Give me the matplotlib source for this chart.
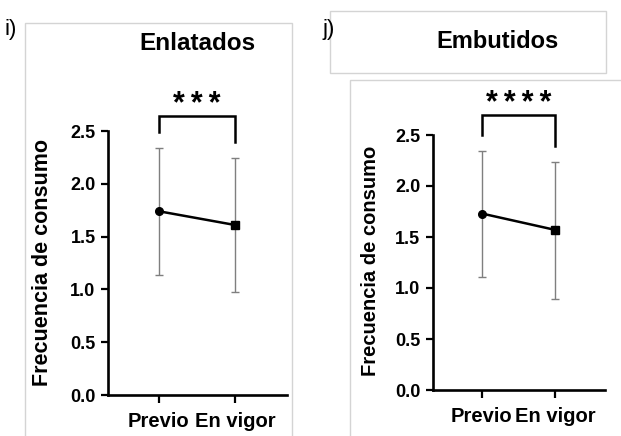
"""Frecuencia de consumo: Enlatados / Embutidos (previo vs en vigor)."""

import matplotlib
matplotlib.use("Agg")
import matplotlib.pyplot as plt
from matplotlib.patches import Rectangle

plt.rcParams["font.family"] = ["Liberation Sans", "DejaVu Sans"]

W, H = 621, 436

categorias = ["Previo", "En vigor"]
yticks = [0.0, 0.5, 1.0, 1.5, 2.0, 2.5]

enlatados_media = [1.74, 1.61]
enlatados_sup = [2.34, 2.24]
enlatados_inf = [1.14, 0.98]

embutidos_media = [1.73, 1.57]
embutidos_sup = [2.34, 2.24]
embutidos_inf = [1.11, 0.89]


def px_box(x0, y0, x1, y1):
    # pixel box (top-left origin) -> figure fraction [l, b, w, h]
    return [x0 / W, 1 - y1 / H, (x1 - x0) / W, (y1 - y0) / H]


def panel(ax, media, sup, inf, n_estrellas, bracket):
    x = list(range(len(categorias)))
    err = [[m - i for m, i in zip(media, inf)], [s - m for s, m in zip(sup, media)]]
    ax.errorbar(x, media, yerr=err, fmt="none", ecolor="#7f7f7f", elinewidth=1.0,
                capsize=3, capthick=1.0, zorder=2)
    ax.plot(x, media, color="black", lw=1.8, zorder=3)
    ax.plot(x[0], media[0], "o", color="black", ms=5.5, zorder=4)
    ax.plot(x[1], media[1], "s", color="black", ms=5.5, zorder=4)

    top, l_end, r_end = bracket
    ax.plot([0, 0, 1, 1], [l_end, top, top, r_end], color="black", lw=1.8,
            clip_on=False, solid_joinstyle="miter")
    estrellas = "\u2009".join(["*"] * n_estrellas)
    ax.text(0.5, top + 0.03, estrellas, ha="center", va="baseline", fontsize=22,
            fontweight="bold", clip_on=False)

    ax.set_xlim(-0.67, 1.685)
    ax.set_ylim(0, 2.5)
    ax.set_yticks(yticks)
    ax.set_yticklabels([f"{v:.1f}" for v in yticks])
    ax.set_xticks(x)
    ax.set_xticklabels(categorias)
    for s in ["top", "right"]:
        ax.spines[s].set_visible(False)
    for s in ["left", "bottom"]:
        ax.spines[s].set_linewidth(1.9)
    ax.tick_params(axis="y", length=5, width=1.6, pad=4, labelsize=13)
    ax.tick_params(axis="x", length=6, width=1.6, pad=6, labelsize=14.5)
    for lab in ax.get_xticklabels() + ax.get_yticklabels():
        lab.set_fontweight("bold")


fig = plt.figure(figsize=(W / 100, H / 100), dpi=100)

# panel frames
gris = "#d4d4d4"
for (x0, y0, x1, y1) in [(25, 23, 292, 440), (330, 11, 606, 73), (350, 80, 625, 440)]:
    fig.add_artist(Rectangle((x0 / W, 1 - y1 / H), (x1 - x0) / W, (y1 - y0) / H,
                             transform=fig.transFigure, fill=False, ec=gris, lw=1.0))

ax1 = fig.add_axes(px_box(108, 131, 287, 395))
panel(ax1, enlatados_media, enlatados_sup, enlatados_inf, 3, (2.64, 2.49, 2.40))

ax2 = fig.add_axes(px_box(433, 135, 605, 390))
panel(ax2, embutidos_media, embutidos_sup, embutidos_inf, 4, (2.70, 2.50, 2.39))

fig.text(43 / W, 1 - 263 / H, "Frecuencia de consumo", rotation=90, ha="center",
         va="center", fontsize=15.5, fontweight="bold")
fig.text(370 / W, 1 - 261 / H, "Frecuencia de consumo", rotation=90, ha="center",
         va="center", fontsize=14.5, fontweight="bold")

fig.text(197 / W, 1 - 43 / H, "Enlatados", ha="center", va="center", fontsize=17.5,
         fontweight="bold")
fig.text(498 / W, 1 - 42 / H, "Embutidos", ha="center", va="center", fontsize=17,
         fontweight="bold")
fig.text(4 / W, 1 - 30 / H, "i)", ha="left", va="center", fontsize=16)
fig.text(322 / W, 1 - 30 / H, "j)", ha="left", va="center", fontsize=16)

fig.savefig("out.png", dpi=100)
